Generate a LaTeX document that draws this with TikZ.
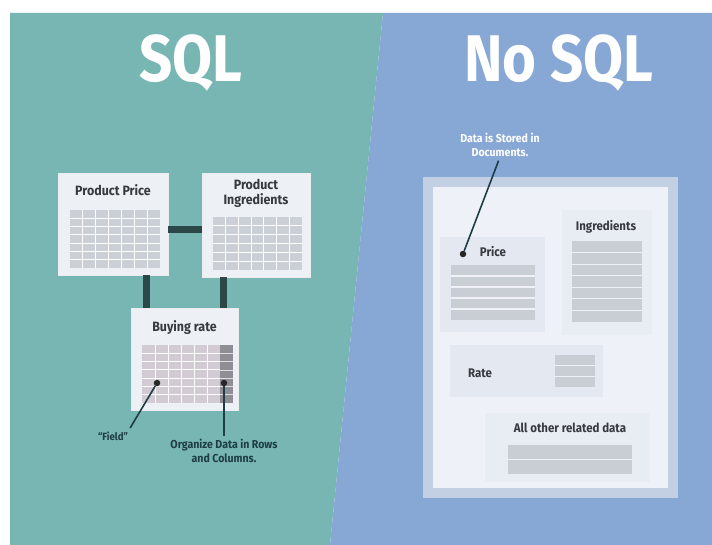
\documentclass[tikz,border=0pt]{standalone}
\usepackage{fontspec}
\setmainfont{Fira Sans}
\newfontfamily\titlefont[FakeStretch=0.88]{Fira Sans}
\newfontfamily\narrowfont[FakeStretch=0.92, Ligatures=TeX]{Fira Sans}
\usetikzlibrary{calc}

\definecolor{sqlbg}{HTML}{77B6B2}
\definecolor{nosqlbg}{HTML}{87A7D5}
\definecolor{cardfill}{HTML}{EDF1F5}
\definecolor{cellfill}{HTML}{CBCFD6}
\definecolor{rosecell}{HTML}{D2CBD3}
\definecolor{darkcol}{HTML}{8F8E96}
\definecolor{linkcol}{HTML}{2C4747}
\definecolor{docframe}{HTML}{C3CFE2}
\definecolor{docfill}{HTML}{EEF1F7}
\definecolor{panelfill}{HTML}{E4E8F0}
\definecolor{barfill}{HTML}{C9CDD4}
\definecolor{labelcol}{HTML}{1E3D44}
\definecolor{headcol}{HTML}{363A3E}

% grid of cells: x1 y1 x2 y2 cols rows colour
\newcommand\cellgrid[7]{%
  \fill[#7] (#1,#2) rectangle (#3,#4);
  \pgfmathtruncatemacro\cgcols{#5-1}%
  \pgfmathtruncatemacro\cgrows{#6-1}%
  \foreach \k in {1,...,\cgcols}
    \draw[white, line width=0.9pt] ({#1+(#3-#1)*\k/#5},#2) -- ({#1+(#3-#1)*\k/#5},#4);
  \foreach \k in {1,...,\cgrows}
    \draw[white, line width=0.9pt] (#1,{#2+(#4-#2)*\k/#6}) -- (#3,{#2+(#4-#2)*\k/#6});
}
% stacked bars: x1 y1 x2 y2 rows
\newcommand\barstack[5]{%
  \fill[barfill] (#1,#2) rectangle (#3,#4);
  \pgfmathtruncatemacro\bsrows{#5-1}%
  \foreach \k in {1,...,\bsrows}
    \draw[panelfill!60!white, line width=1.2pt] (#1,{#2+(#4-#2)*\k/#5}) -- (#3,{#2+(#4-#2)*\k/#5});
}

\begin{document}
\begin{tikzpicture}[x=1pt, y=-1pt,
  title/.style={font=\titlefont\fontsize{66}{66}\selectfont\bfseries, text=white, inner sep=0pt},
  card/.style={fill=cardfill, draw=white!85!gray, line width=0.6pt, inner sep=0pt},
  cardtitle/.style={font=\narrowfont\fontsize{13.5}{15}\selectfont\bfseries, text=headcol, align=center, inner sep=0pt},
  link/.style={draw=linkcol, line width=7pt},
  pointer/.style={draw=labelcol, line width=1.6pt},
  dot/.style={circle, fill=black!85, inner sep=0pt, minimum size=6.5pt},
  note/.style={font=\narrowfont\fontsize{11.5}{14}\selectfont\bfseries, text=labelcol, align=center, inner sep=0pt},
  doc/.style={fill=docfill, draw=docframe, line width=10pt, inner sep=0pt},
  panel/.style={fill=panelfill, inner sep=0pt},
  doctitle/.style={font=\narrowfont\fontsize{12.5}{14}\selectfont\bfseries, text=headcol, inner sep=0pt}]

% backdrop: white margin, two halves split by a slanted edge
\fill[white] (0,0) rectangle (712,545);
\fill[sqlbg] (10,13) -- (383,13) -- (330,545) -- (10,545) -- cycle;
\fill[nosqlbg] (383,13) -- (712,13) -- (712,545) -- (330,545) -- cycle;
\useasboundingbox (0,0) rectangle (712,545);

% headings
\node[title] (sqlt) at (191,63) {SQL};
\node[title] (nosqlt) at (559,63) {No SQL};

% ---------- relational side ----------
\node[card, minimum width=110pt, minimum height=102pt] (pp) at (113,224) {};
\node[card, minimum width=108pt, minimum height=104pt] (pi) at (256,225) {};
\node[card, minimum width=107pt, minimum height=102pt] (br) at (184.5,359) {};

\draw[link] ([yshift=-6pt]pp.east) -- ([yshift=-6pt]pp.east -| pi.west);
\draw[link] (pp.south -| 146,0) -- (br.north -| 146,0);
\draw[link] (pi.south -| 223,0) -- (br.north -| 223,0);

\node[cardtitle] (ppt) at (113,190) {Product Price};
\node[cardtitle] (pit) at (256,193) {Product\\Ingredients};
\node[cardtitle] (brt) at (184.5,328) {Buying rate};

\cellgrid{70}{210}{160}{268}{7}{7}{cellfill}
\cellgrid{213}{217}{302}{270}{7}{6}{cellfill}
\cellgrid{142}{345}{233}{403}{7}{7}{rosecell}
\fill[darkcol] (220,345) rectangle (233,403);
\foreach \k in {1,...,6}
  \draw[rosecell!70!white, line width=0.7pt] (220,{345+58*\k/7}) -- (233,{345+58*\k/7});

\node[dot] (d1) at (157,383) {};
\node[dot] (d2) at (224,383) {};
\node[note, font=\narrowfont\fontsize{10.5}{12}\selectfont\bfseries] (fld) at (113,436) {“Field”};
\node[note] (org) at (224,451) {Organize Data in Rows\\and Columns.};
\draw[pointer, shorten >=4pt] (d1) -- (fld.north east);
\draw[pointer, shorten >=3pt] (d2) -- (org.north -| d2);

% ---------- document side ----------
\node[doc, minimum width=245pt, minimum height=311pt] (doc) at (550.5,337.5) {};
\node[panel, minimum width=105pt, minimum height=95pt] (pricep) at (492.5,284.5) {};
\node[panel, fill=panelfill!55!docfill, minimum width=90pt, minimum height=125pt] (ingp) at (607,272.5) {};
\node[panel, minimum width=153pt, minimum height=52pt] (ratep) at (526.5,371) {};
\node[panel, fill=panelfill!55!docfill, minimum width=165pt, minimum height=69pt] (otherp) at (567.5,447.5) {};

\node[doctitle] (pricet) at (493,252) {Price};
\node[doctitle] (ingt) at (606,227) {Ingredients};
\node[doctitle] (ratet) at (480,373) {Rate};
\node[doctitle] (othert) at (570,428) {All other related data};

\barstack{451}{265}{535}{320}{5}
\barstack{572}{241}{642}{322}{7}
\barstack{555}{355}{595}{387}{3}
\barstack{508}{445}{632}{474}{2}

\node[note, text=white] (dsd) at (500,145) {Data is Stored in\\Documents.};
\node[dot] (d3) at (463,254) {};
\draw[pointer, shorten <=4pt] (dsd.south) -- (d3);

\end{tikzpicture}
\end{document}
